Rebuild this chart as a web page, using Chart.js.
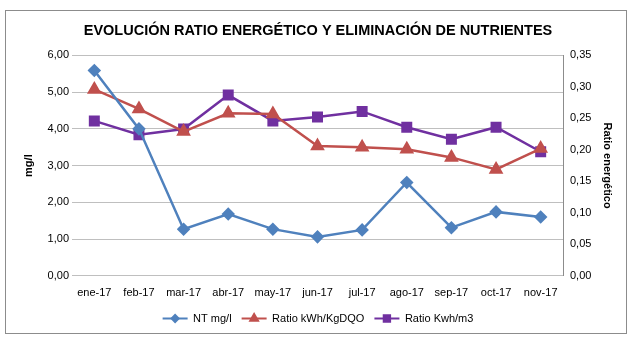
<!DOCTYPE html>
<html>
<head>
<meta charset="utf-8">
<script src="https://cdn.jsdelivr.net/npm/chart.js@4"></script>
<style>
  html, body { margin: 0; padding: 0; background: #fff; }
  #wrap { width: 636px; height: 344px; }
</style>
</head>
<body>
<div id="wrap"><canvas id="chart" width="636" height="344"></canvas></div>
<script>
// Data
const months = ['ene-17', 'feb-17', 'mar-17', 'abr-17', 'may-17', 'jun-17', 'jul-17', 'ago-17', 'sep-17', 'oct-17', 'nov-17'];
const ntMgL = [5.59, 4.00, 1.27, 1.68, 1.27, 1.06, 1.25, 2.54, 1.31, 1.74, 1.60];
const ratioKgDQO = [0.296, 0.265, 0.229, 0.258, 0.257, 0.206, 0.204, 0.201, 0.188, 0.169, 0.202];
const ratioM3 = [0.246, 0.224, 0.233, 0.287, 0.246, 0.252, 0.261, 0.236, 0.217, 0.236, 0.197];

const FONT = "'Liberation Sans', Arial, sans-serif";
const fmt = (v, d) => v.toFixed(d).replace('.', ',');

// Marco exterior del gráfico
const framePlugin = {
    id: 'frame',
    beforeDraw(chart) {
        const c = chart.ctx;
        c.save();
        c.fillStyle = '#fff';
        c.fillRect(0, 0, chart.width, chart.height);
        c.strokeStyle = '#8c8c8c';
        c.lineWidth = 1;
        c.strokeRect(5.5, 10.5, 621, 323);
        c.restore();
    }
};

// Leyenda con línea + marcador (estilo Excel)
const legendLinePlugin = {
    id: 'legendLine',
    afterDraw(chart) {
        const legend = chart.legend;
        if (!legend || !legend.legendHitBoxes) return;
        const c = chart.ctx;
        const boxW = legend.options.labels.boxWidth;
        legend.legendHitBoxes.forEach((box, i) => {
            const ds = chart.data.datasets[i];
            const y = box.top + box.height / 2;
            c.save();
            c.strokeStyle = ds.borderColor;
            c.lineWidth = 2;
            c.beginPath();
            c.moveTo(box.left, y);
            c.lineTo(box.left + boxW, y);
            c.stroke();
            c.fillStyle = ds.borderColor;
            c.strokeStyle = ds.borderColor;
            Chart.helpers.drawPoint(c, {
                pointStyle: ds.pointStyle,
                radius: ds.pointStyle === 'rectRot' ? 3.5 : 4.5,
                borderWidth: 1
            }, box.left + boxW / 2, y);
            c.restore();
        });
    }
};

new Chart(document.getElementById('chart'), {
    type: 'line',
    data: {
        labels: months,
        datasets: [
            {
                label: 'NT mg/l',
                data: ntMgL,
                yAxisID: 'y',
                borderColor: '#4F81BD',
                backgroundColor: '#4F81BD',
                borderWidth: 2.5,
                pointStyle: 'rectRot',
                pointRadius: 5,
                tension: 0
            },
            {
                label: 'Ratio kWh/KgDQO',
                data: ratioKgDQO,
                yAxisID: 'y1',
                borderColor: '#C0504D',
                backgroundColor: '#C0504D',
                borderWidth: 2.5,
                pointStyle: 'triangle',
                pointRadius: 6,
                tension: 0
            },
            {
                label: 'Ratio Kwh/m3',
                data: ratioM3,
                yAxisID: 'y1',
                borderColor: '#7030A0',
                backgroundColor: '#7030A0',
                borderWidth: 2.5,
                pointStyle: 'rect',
                pointRadius: 6,
                tension: 0
            }
        ]
    },
    options: {
        responsive: false,
        animation: false,
        layout: { padding: { left: 18, right: 18, top: 6, bottom: 10 } },
        plugins: {
            title: {
                display: true,
                text: 'EVOLUCIÓN RATIO ENERGÉTICO Y ELIMINACIÓN DE NUTRIENTES',
                color: '#000',
                font: { family: FONT, size: 14.5, weight: 'bold' },
                padding: { top: 16, bottom: 16 }
            },
            legend: {
                position: 'bottom',
                labels: {
                    color: '#000',
                    font: { family: FONT, size: 11 },
                    boxWidth: 25,
                    boxHeight: 8,
                    padding: 10,
                    generateLabels(chart) {
                        return chart.data.datasets.map((ds, i) => ({
                            text: ds.label,
                            fillStyle: 'rgba(0,0,0,0)',
                            strokeStyle: 'rgba(0,0,0,0)',
                            lineWidth: 0,
                            datasetIndex: i
                        }));
                    }
                }
            },
            tooltip: { enabled: false }
        },
        scales: {
            x: {
                offset: true,
                grid: { display: false },
                border: { display: true, color: '#bfbfbf' },
                ticks: { color: '#000', font: { family: FONT, size: 11 }, maxRotation: 0 }
            },
            y: {
                position: 'left',
                min: 0,
                max: 6,
                ticks: {
                    stepSize: 1,
                    color: '#000',
                    font: { family: FONT, size: 11 },
                    callback: v => fmt(v, 2)
                },
                grid: { color: '#bfbfbf', drawTicks: false },
                border: { display: false },
                title: {
                    display: true,
                    text: 'mg/l',
                    color: '#000',
                    font: { family: FONT, size: 11, weight: 'bold' }
                },
                afterFit(scale) { scale.width = 54; }
            },
            y1: {
                position: 'right',
                min: 0,
                max: 0.35,
                ticks: {
                    stepSize: 0.05,
                    color: '#000',
                    font: { family: FONT, size: 11 },
                    callback: v => fmt(v, 2)
                },
                grid: { display: false, drawOnChartArea: false, tickLength: 4, color: '#8c8c8c' },
                border: { display: true, color: '#8c8c8c' },
                title: {
                    display: true,
                    text: 'Ratio energético',
                    color: '#000',
                    font: { family: FONT, size: 11, weight: 'bold' }
                },
                afterFit(scale) { scale.width = 55; }
            }
        }
    },
    plugins: [framePlugin, legendLinePlugin]
});
</script>
</body>
</html>
